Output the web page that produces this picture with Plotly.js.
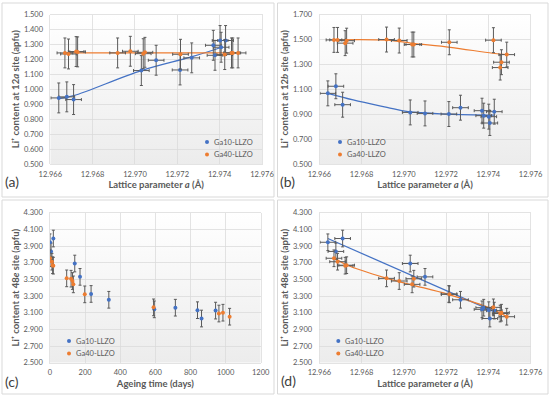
<!DOCTYPE html>
<html><head><meta charset="utf-8">
<script src="https://cdn.plot.ly/plotly-3.0.1.min.js"></script>
<style>html,body{margin:0;padding:0;background:#fff}#chart{width:550px;height:397px}</style>
</head><body><div id="chart"></div>
<script>
// ---------- data ----------
const series = ["Ga10-LLZO", "Ga40-LLZO"];
// Ga10-LLZO
const lattice10 = [12.96640, 12.96678, 12.96710, 12.97030, 12.97100, 12.97213, 12.97268, 12.97370, 12.97378, 12.97402, 12.97407, 12.97428];
const age10     = [0, 6, 19, 141, 171, 234, 335, 594, 714, 840, 863, 943];
const li12a_10  = [0.942, 0.949, 0.931, 1.125, 1.194, 1.129, 1.210, 1.294, 1.227, 1.326, 1.281, 1.326];
const li12b_10  = [1.067, 1.124, 0.976, 0.914, 0.906, 0.901, 0.952, 0.928, 0.888, 0.880, 0.829, 0.920];
const li48e_10  = [3.945, 3.835, 3.990, 3.690, 3.530, 3.325, 3.255, 3.140, 3.160, 3.130, 3.030, 3.125];
// Ga40-LLZO
const lattice40 = [12.96669, 12.96686, 12.96722, 12.96729, 12.96918, 12.96978, 12.97039, 12.97047, 12.97215, 12.97424, 12.97456, 12.97462, 12.97487];
const age40     = [0, 11, 19, 15, 95, 128, 133, 120, 198, 590, 962, 985, 1023];
const li12a_40  = [1.243, 1.236, 1.252, 1.250, 1.243, 1.254, 1.238, 1.247, 1.234, 1.232, 1.243, 1.243, 1.243];
const li12b_40  = [1.496, 1.496, 1.470, 1.490, 1.499, 1.491, 1.459, 1.459, 1.477, 1.494, 1.274, 1.317, 1.378];
const li48e_40  = [3.753, 3.712, 3.664, 3.670, 3.512, 3.480, 3.440, 3.508, 3.320, 3.164, 3.090, 3.100, 3.052];
// uncertainties
const errLi = 0.1;
const errLattice = 0.00037;
// trend lines
const fit12a_10_x = [12.9664, 12.9671, 12.9703, 12.9727, 12.9741];
const fit12a_10_y = [0.937, 0.957, 1.125, 1.218, 1.281];
const fit12a_40_x = [12.9667, 12.9749];
const fit12a_40_y = [1.243, 1.243];
const fit12b_10_x = [12.9664, 12.9676, 12.9692, 12.9702, 12.9721, 12.9743];
const fit12b_10_y = [1.067, 1.014, 0.955, 0.920, 0.901, 0.893];
const fit12b_40_x = [12.9667, 12.9692, 12.9704, 12.9722, 12.9742, 12.9749];
const fit12b_40_y = [1.497, 1.494, 1.469, 1.437, 1.389, 1.378];
const fit48e_10_x = [12.9664, 12.9743];
const fit48e_10_y = [3.990, 3.110];
const fit48e_40_x = [12.9667, 12.9673, 12.9692, 12.9704, 12.9721, 12.9739, 12.9749];
const fit48e_40_y = [3.760, 3.672, 3.512, 3.432, 3.320, 3.172, 3.050];
// axis titles / labels
const xTitleLattice = "Lattice parameter <i>a</i> (Å)";
const xTitleAge = "Ageing time (days)";
const yTitle12a = "Li⁺ content at 12<i>a</i> site (apfu)";
const yTitle12b = "Li⁺ content at 12<i>b</i> site (apfu)";
const yTitle48e = "Li⁺ content at 48<i>e</i> site (apfu)";
const panelLabels = ["(a)", "(b)", "(c)", "(d)"];

// ---------- styling ----------
const C10 = "#4472C4", C40 = "#ED7D31";
const COLORS = [C10, C40];
const FONT = "Lato, 'Open Sans', sans-serif";
const W = 550, H = 397;
const px = v => v / W, py = v => 1 - v / H;

function pts(x, y, name, color, xa, ya, xerr) {
  const t = {
    type: "scatter", mode: "markers", x: x, y: y, name: name,
    xaxis: xa, yaxis: ya, showlegend: false,
    marker: {color: color, size: 4, line: {width: 0}},
    error_y: {type: "constant", value: errLi, color: "#5a5a5a", thickness: 1, width: 1.5},
    hoverinfo: "skip"
  };
  if (xerr) t.error_x = {type: "constant", value: errLattice, color: "#5a5a5a", thickness: 1, width: 1.5};
  return t;
}
function fit(x, y, color, xa, ya) {
  return {type: "scatter", mode: "lines", x: x, y: y, xaxis: xa, yaxis: ya, showlegend: false,
    line: {color: color, width: 1.25, shape: "spline", smoothing: 1}, hoverinfo: "skip"};
}

const data = [
  fit(fit12a_10_x, fit12a_10_y, C10, "x", "y"),
  fit(fit12a_40_x, fit12a_40_y, C40, "x", "y"),
  pts(lattice10, li12a_10, series[0], C10, "x", "y", true),
  pts(lattice40, li12a_40, series[1], C40, "x", "y", true),

  fit(fit12b_10_x, fit12b_10_y, C10, "x2", "y2"),
  fit(fit12b_40_x, fit12b_40_y, C40, "x2", "y2"),
  pts(lattice10, li12b_10, series[0], C10, "x2", "y2", true),
  pts(lattice40, li12b_40, series[1], C40, "x2", "y2", true),

  pts(age10, li48e_10, series[0], C10, "x3", "y3", false),
  pts(age40, li48e_40, series[1], C40, "x3", "y3", false),

  fit(fit48e_10_x, fit48e_10_y, C10, "x4", "y4"),
  fit(fit48e_40_x, fit48e_40_y, C40, "x4", "y4"),
  pts(lattice10, li48e_10, series[0], C10, "x4", "y4", true),
  pts(lattice40, li48e_40, series[1], C40, "x4", "y4", true)
];

const tickFont = {family: FONT, size: 7.5, color: "#595959"};
const titleFont = {family: FONT, size: 9.5, color: "#595959", weight: "bold"};
function xax(dom, range, dtick, fmt, anchor, title) {
  return {domain: dom, range: range, dtick: dtick, tick0: range[0], tickformat: fmt, anchor: anchor,
    title: {text: title, font: titleFont, standoff: 3},
    showgrid: true, gridcolor: "#d9d9d9", gridwidth: 0.75, zeroline: false,
    showline: true, linecolor: "#d9d9d9", linewidth: 0.75, mirror: true,
    ticks: "outside", ticklen: 3, tickcolor: "rgba(0,0,0,0)", tickfont: tickFont, fixedrange: true};
}
function yax(dom, range, dtick, anchor, title) {
  return {domain: dom, range: range, dtick: dtick, tick0: range[0], tickformat: ".3f", anchor: anchor,
    title: {text: title, font: titleFont, standoff: 2},
    showgrid: true, gridcolor: "#d9d9d9", gridwidth: 0.75, zeroline: false,
    showline: true, linecolor: "#d9d9d9", linewidth: 0.75, mirror: true,
    ticks: "outside", ticklen: 5, tickcolor: "rgba(0,0,0,0)", tickfont: tickFont, fixedrange: true};
}

const xdA = [px(50.3), px(262.0)], xdB = [px(319.4), px(530.6)], xdC = [px(50), px(260.7)];
const ydTop = [py(164), py(14.5)], ydBot = [py(362.7), py(212.7)];

const grad = "data:image/svg+xml;utf8," + encodeURIComponent(
  '<svg xmlns="http://www.w3.org/2000/svg" width="10" height="100" viewBox="0 0 10 100" preserveAspectRatio="none">' +
  '<defs><linearGradient id="g" x1="0" y1="0" x2="0" y2="1"><stop offset="0" stop-color="#ffffff"/>' +
  '<stop offset="1" stop-color="#ececec"/></linearGradient></defs><rect width="10" height="100" fill="url(#g)"/></svg>');
function bg(xd, yd) {
  return {source: grad, xref: "paper", yref: "paper", x: xd[0], y: yd[1], sizex: xd[1] - xd[0], sizey: yd[1] - yd[0],
    xanchor: "left", yanchor: "top", sizing: "stretch", layer: "below"};
}
function box(x0, x1, y0, y1) {
  return {type: "rect", xref: "paper", yref: "paper", x0: px(x0), x1: px(x1), y0: py(y1), y1: py(y0),
    line: {color: "#d9d9d9", width: 1}, fillcolor: "rgba(0,0,0,0)", layer: "below"};
}
const labFont = {family: FONT, size: 14, color: "#404040"};
function lab(text, x, y) {
  return {text: text, x: px(x), y: py(y), xref: "paper", yref: "paper", showarrow: false,
    xanchor: "left", yanchor: "middle", font: labFont};
}
// legend entries (glyph + text) for each panel
const legFont = {family: FONT, size: 7.5, color: "#595959"};
const legendAnchors = [[207, 142], [340, 142], [69, 341], [338.3, 341]];
const legendGap = 12.5;
const legendShapes = [], legendTexts = [];
legendAnchors.forEach(function(a) {
  series.forEach(function(name, i) {
    const cx = a[0], cy = a[1] + i * legendGap;
    legendShapes.push({type: "circle", xref: "paper", yref: "paper",
      x0: px(cx - 2), x1: px(cx + 2), y0: py(cy + 2), y1: py(cy - 2),
      fillcolor: COLORS[i], line: {width: 0}});
    legendTexts.push({text: name, x: px(cx + 4.5), y: py(cy), xref: "paper", yref: "paper", showarrow: false,
      xanchor: "left", yanchor: "middle", font: legFont});
  });
});

const layout = {
  width: W, height: H, margin: {l: 0, r: 0, t: 0, b: 0},
  paper_bgcolor: "#ffffff", plot_bgcolor: "rgba(0,0,0,0)",
  font: {family: FONT, color: "#595959"},
  showlegend: false,
  xaxis: xax(xdA, [12.966, 12.976], 0.002, ".3f", "y", xTitleLattice),
  yaxis: yax(ydTop, [0.5, 1.5], 0.1, "x", yTitle12a),
  xaxis2: xax(xdB, [12.966, 12.976], 0.002, ".3f", "y2", xTitleLattice),
  yaxis2: yax(ydTop, [0.5, 1.7], 0.2, "x2", yTitle12b),
  xaxis3: xax(xdC, [0, 1200], 200, "d", "y3", xTitleAge),
  yaxis3: yax(ydBot, [2.5, 4.3], 0.2, "x3", yTitle48e),
  xaxis4: xax(xdB, [12.966, 12.976], 0.002, ".3f", "y4", xTitleLattice),
  yaxis4: yax(ydBot, [2.5, 4.3], 0.2, "x4", yTitle48e),
  images: [bg(xdA, ydTop), bg(xdB, ydTop), bg(xdC, ydBot), bg(xdB, ydBot)],
  shapes: [box(2, 274, 3, 197), box(277.5, 548, 3, 197), box(2, 274, 200, 394), box(277.5, 548, 200, 394)].concat(legendShapes),
  annotations: [
    lab(panelLabels[0], 3, 182),
    lab(panelLabels[1], 278, 182),
    lab(panelLabels[2], 3, 381),
    lab(panelLabels[3], 279, 380)
  ].concat(legendTexts)
};

Plotly.newPlot("chart", data, layout, {staticPlot: true, displayModeBar: false});
</script></body></html>
